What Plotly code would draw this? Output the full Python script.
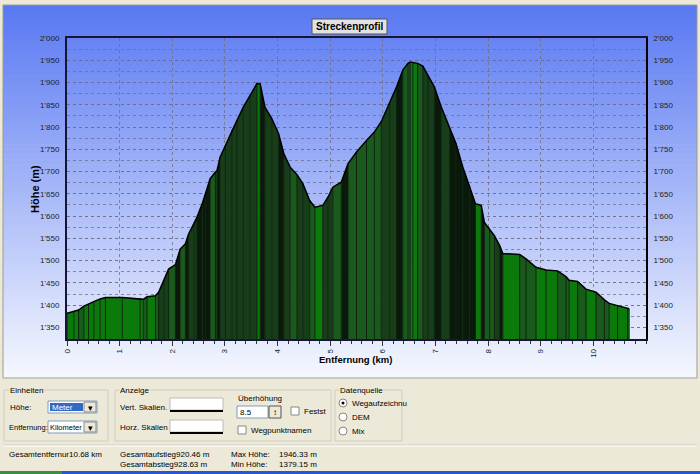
import plotly.graph_objects as go

# ---------------- data ----------------
distance_km = [0.00, 0.13, 0.22, 0.32, 0.41, 0.51, 0.63, 0.73, 1.05, 1.39, 1.45, 1.52, 1.68, 1.74,
               1.84, 1.93, 2.06, 2.15, 2.25, 2.31, 2.41, 2.47, 2.57, 2.63, 2.72, 2.82, 2.85, 2.91,
               3.01, 3.13, 3.23, 3.35, 3.48, 3.61, 3.67, 3.76, 3.89, 4.02, 4.12, 4.24, 4.37, 4.48,
               4.61, 4.71, 4.86, 4.96, 5.05, 5.21, 5.34, 5.50, 5.69, 5.84, 5.97, 6.13, 6.26, 6.38,
               6.48, 6.52, 6.57, 6.66, 6.76, 6.86, 6.98, 7.11, 7.27, 7.39, 7.52, 7.65, 7.76, 7.87,
               7.93, 8.03, 8.12, 8.22, 8.28, 8.60, 8.72, 8.91, 9.10, 9.32, 9.48, 9.54, 9.70, 9.86,
               10.05, 10.21, 10.30, 10.46, 10.65, 10.68]
elevation_m = [1382, 1386, 1389, 1398, 1402, 1408, 1414, 1417, 1417, 1415, 1413, 1419, 1421, 1429,
               1455, 1481, 1491, 1526, 1538, 1560, 1583, 1598, 1628, 1650, 1684, 1699, 1702, 1733,
               1759, 1793, 1815, 1845, 1872, 1898, 1897, 1845, 1819, 1785, 1740, 1710, 1693, 1673,
               1635, 1620, 1624, 1643, 1665, 1676, 1718, 1744, 1770, 1789, 1812, 1853, 1890, 1928,
               1943, 1946, 1945, 1943, 1937, 1917, 1890, 1845, 1800, 1763, 1710, 1668, 1628, 1624,
               1586, 1570, 1556, 1534, 1516, 1514, 1504, 1485, 1479, 1477, 1464, 1456, 1453, 1436,
               1429, 1412, 1404, 1399, 1393, 1392]
y_tick_vals = [1350, 1400, 1450, 1500, 1550, 1600, 1650, 1700, 1750, 1800, 1850, 1900, 1950, 2000]
y_tick_text = ["1'350", "1'400", "1'450", "1'500", "1'550", "1'600", "1'650", "1'700", "1'750",
               "1'800", "1'850", "1'900", "1'950", "2'000"]
x_tick_vals = [0, 1, 2, 3, 4, 5, 6, 7, 8, 9, 10]

# ---------------- geometry helpers ----------------
W_PX, H_PX = 700, 474
L, T, R, B = 67, 38, 646, 339
PW, PH = R - L, B - T


def px(x):
    return (x - L) / PW


def py(y):
    return (B - y) / PH


shapes = []
annos = []


def rect(x0, y0, x1, y1, fill=None, line=None, lw=1, layer="below"):
    shapes.append(dict(type="rect", xref="paper", yref="paper",
                       x0=px(x0), x1=px(x1), y0=py(y1), y1=py(y0),
                       fillcolor=fill if fill else "rgba(0,0,0,0)",
                       line=dict(color=line if line else "rgba(0,0,0,0)", width=lw if line else 0),
                       layer=layer))


def hline(x0, x1, y, color, lw=1, layer="above"):
    shapes.append(dict(type="line", xref="paper", yref="paper",
                       x0=px(x0), x1=px(x1), y0=py(y), y1=py(y),
                       line=dict(color=color, width=lw), layer=layer))


def text(x, y, s, size=8, color="#000000", anchor="left", bold=False, family="Liberation Sans",
         angle=0, bg=None):
    annos.append(dict(xref="paper", yref="paper", x=px(x), y=py(y), text=(f"<b>{s}</b>" if bold else s),
                      showarrow=False, xanchor=anchor, yanchor="middle", textangle=angle,
                      font=dict(size=size, color=color, family=family),
                      bgcolor=bg if bg else "rgba(0,0,0,0)", borderpad=0))


# window background pieces
rect(0, 0, 700, 474, fill="#ece9d8")
# chart panel gradient (blue top -> white bottom)
top_c, bot_c = (88, 120, 242), (246, 248, 254)
y_start, y_end, n_strips = 5, 378, 75
for k in range(n_strips):
    ya = y_start + (y_end - y_start) * k / n_strips
    yb = y_start + (y_end - y_start) * (k + 1) / n_strips + 0.6
    t = (k + 0.5) / n_strips
    c = tuple(round(top_c[j] + (bot_c[j] - top_c[j]) * t) for j in range(3))
    rect(3, ya, 697, yb, fill="rgb(%d,%d,%d)" % c)
rect(3, 5, 697, 378, line="#9c9a8c", lw=1)

# title box
rect(312, 19, 387, 34, fill="#e2e2e2", line="#555555", lw=1, layer="above")
text(349.5, 26.8, "Streckenprofil", size=10, bold=True, anchor="center", family="Liberation Sans")

# axis titles
text(35, 189, "Höhe (m)", size=11, bold=True, anchor="center", angle=-90)
text(355, 359, "Entfernung (km)", size=9.5, bold=True, anchor="center")

# ---------------- control panel ----------------
gb = "#cfcdbf"
# Einheiten group
rect(4, 390, 108, 441, line=gb)
text(9, 390, "Einheiten", bg="#ece9d8")
text(9, 407, "Höhe:")
rect(48, 401, 97, 413, fill="#ffffff", line="#7f9db9", layer="above")
rect(50, 403, 83, 411, fill="#316ac5", layer="above")
text(51, 407, "Meter", color="#ffffff")
rect(84, 402, 96, 412, fill="#ece9d8", line="#888888", layer="above")
text(90, 407.5, "▾", size=9, anchor="center")
text(8, 427, "Entfernung:", size=7.5)
rect(48, 421, 97, 433, fill="#ffffff", line="#7f9db9", layer="above")
text(49, 427, "Kilometer", size=7.5)
rect(84, 422, 96, 432, fill="#ece9d8", line="#888888", layer="above")
text(90, 427.5, "▾", size=9, anchor="center")

# Anzeige group
rect(115, 390, 331, 441, line=gb)
text(119, 390, "Anzeige", bg="#ece9d8")
text(119, 407, "Vert. Skalien.")
rect(170, 398, 223, 410, fill="#ffffff", line="#bbbbbb", layer="above")
hline(170, 223, 411, "#000000", 2)
text(119, 427, "Horz. Skalien")
rect(170, 420, 223, 432, fill="#ffffff", line="#bbbbbb", layer="above")
hline(170, 223, 433, "#000000", 2)
text(237, 398, "Überhöhung")
rect(237, 406, 268, 418, fill="#ffffff", line="#7f9db9", layer="above")
text(239, 412, "8.5")
rect(269, 406, 281, 418, fill="#ece9d8", line="#555555", layer="above")
text(275, 412, "↕", size=8, anchor="center")
rect(291, 407, 299, 415, fill="#ffffff", line="#888888", layer="above")
text(303, 411, "Festst")
rect(238, 426, 246, 434, fill="#ffffff", line="#888888", layer="above")
text(250, 430, "Wegpunktnamen")

# Datenquelle group
rect(335, 390, 402, 441, line=gb)
text(339, 390, "Datenquelle", bg="#ece9d8")
for yy, lab in [(403, "Wegaufzeichnu"), (417, "DEM"), (431, "Mix")]:
    shapes.append(dict(type="circle", xref="paper", yref="paper", x0=px(339), x1=px(347),
                       y0=py(yy + 4), y1=py(yy - 4), fillcolor="#ffffff",
                       line=dict(color="#888888", width=1), layer="above"))
    text(351, yy, lab)
shapes.append(dict(type="circle", xref="paper", yref="paper", x0=px(341.5), x1=px(344.5),
                   y0=py(404.5), y1=py(401.5), fillcolor="#000000",
                   line=dict(color="#000000", width=0), layer="above"))

hline(3, 697, 445, "#cfcdbf", 1)
hline(3, 697, 446, "#ffffff", 1)

# status values
text(8, 454, "Gesamtentfernur10.68 km")
text(119, 454, "Gesamtaufstieg920.46 m")
text(119, 464, "Gesamtabstieg928.63 m")
text(230, 454, "Max Höhe:")
text(278, 454, "1946.33 m")
text(230, 464, "Min Höhe:")
text(278, 464, "1379.15 m")

# taskbar strip
rect(0, 471, 700, 474, fill="#2457d6")
rect(0, 471, 62, 474, fill="#3b8f3b")

# ---------------- traces ----------------
fig = go.Figure()
base = 1300
bright, mid, dark, black = "#0b7a0b", "#1a5a1c", "#173d19", "#0a1a0a"
for i in range(len(distance_km) - 1):
    d0, d1 = distance_km[i], distance_km[i + 1]
    h0, h1 = elevation_m[i], elevation_m[i + 1]
    slope = abs(h1 - h0) / (d1 - d0)
    if slope < 60:
        col = bright
    elif slope < 180:
        col = mid
    elif slope < 300:
        col = dark
    else:
        col = black
    fig.add_trace(go.Scatter(x=[d0, d0, d1, d1], y=[base, h0, h1, base], fill="toself",
                             fillcolor=col, mode="lines", line=dict(width=0),
                             hoverinfo="skip", showlegend=False))

sx, sy = [], []
for d, h in zip(distance_km, elevation_m):
    sx += [d, d, None]
    sy += [base, h, None]
fig.add_trace(go.Scatter(x=sx, y=sy, mode="lines", line=dict(color="#0e230e", width=1),
                         hoverinfo="skip", showlegend=False))
fig.add_trace(go.Scatter(x=distance_km, y=elevation_m, mode="lines",
                         line=dict(color="#000000", width=1.5), showlegend=False))
fig.add_trace(go.Scatter(x=[0], y=[1400], yaxis="y2", mode="markers", opacity=0,
                         hoverinfo="skip", showlegend=False))

grid_c = "rgba(110,110,130,0.75)"
fig.update_layout(
    width=W_PX, height=H_PX,
    margin=dict(l=L, r=W_PX - R, t=T, b=H_PX - B, pad=0),
    paper_bgcolor="#ece9d8", plot_bgcolor="rgba(0,0,0,0)",
    showlegend=False,
    font=dict(family="Liberation Sans", size=8, color="#222222"),
    xaxis=dict(range=[0, 11], tickmode="array", tickvals=x_tick_vals,
               ticktext=[str(v) for v in x_tick_vals], tickangle=-90,
               showgrid=True, gridcolor=grid_c, griddash="dot", gridwidth=1,
               ticks="outside", ticklen=5, tickcolor="#333333",
               minor=dict(dtick=0.2, ticks="outside", ticklen=3, tickcolor="#333333", showgrid=False),
               showline=True, linecolor="#151535", linewidth=1.5, mirror=True,
               zeroline=False, tickfont=dict(size=8, color="#222222")),
    yaxis=dict(range=[1324, 2000], tickmode="array", tickvals=y_tick_vals, ticktext=y_tick_text,
               showgrid=True, gridcolor=grid_c, griddash="dot", gridwidth=1,
               minor=dict(tickmode="linear", tick0=0, dtick=25, showgrid=True, gridcolor=grid_c,
                          griddash="dot", gridwidth=1),
               showline=True, linecolor="#151535", linewidth=2, mirror=False,
               zeroline=False, ticks="", ticklabelstandoff=4, tickfont=dict(size=8, color="#222222")),
    yaxis2=dict(range=[1324, 2000], tickmode="array", tickvals=y_tick_vals, ticktext=y_tick_text,
                overlaying="y", side="right", anchor="x", showgrid=False,
                showline=True, linecolor="#000000", linewidth=2, zeroline=False, ticks="",
                ticklabelstandoff=4, tickfont=dict(size=8, color="#222222")),
    shapes=shapes, annotations=annos,
)

fig.write_html("out.html", config={"displayModeBar": False},
               post_script="document.body.style.margin='0';document.body.style.overflow='hidden';")
